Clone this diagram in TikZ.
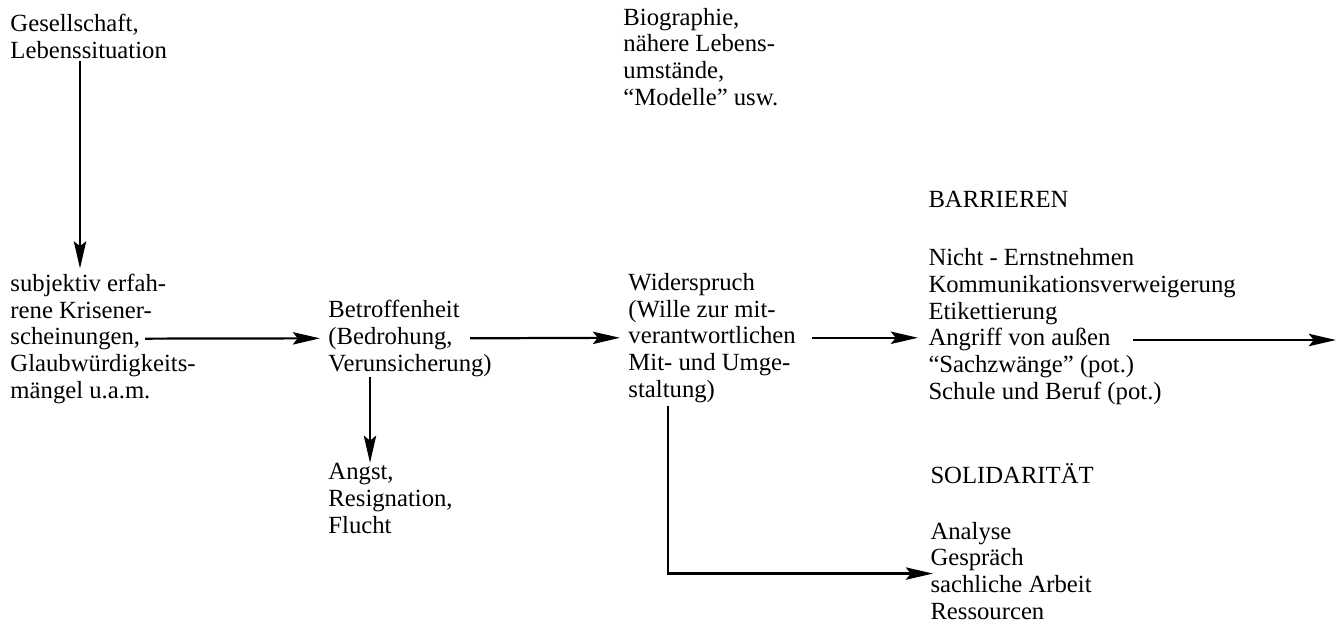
\documentclass[tikz,border=0pt]{standalone}
\usepackage{fontspec}
\setmainfont{Liberation Serif}
\usetikzlibrary{arrows.meta,calc}
\begin{document}
\begin{tikzpicture}[x=0.405pt,y=-0.405pt,
    >={Stealth[length=11pt,width=5pt,inset=2pt]},
    lbl/.style={anchor=base west,align=left,inner sep=0pt,font=\fontsize{10}{10.8}\selectfont},
    conn/.style={->,line width=0.9pt}]
  \useasboundingbox (0,0) rectangle (1336,624);
  % Grundlinie der letzten Zeile
  \node[lbl] (gesell) at (10,58) {Gesellschaft,\\Lebenssituation};
  \node[lbl] (bio) at (623,105) {Biographie,\\nähere Lebens-\\umstände,\\“Modelle” usw.};
  \node[lbl] (krise) at (10,398) {subjektiv erfah-\\rene Krisener-\\scheinungen,\\Glaubwürdigkeits-\\mängel u.a.m.};
  \node[lbl] (betr) at (328,371) {Betroffenheit\\(Bedrohung,\\Verunsicherung)};
  \node[lbl] (angst) at (328,533) {Angst,\\Resignation,\\Flucht};
  \node[lbl] (wid) at (628,397) {Widerspruch\\(Wille zur mit-\\verantwortlichen\\Mit- und Umge-\\staltung)};
  \node[lbl] (barrtitel) at (928,207) {BARRIEREN};
  \node[lbl] (barr) at (928,399) {Nicht - Ernstnehmen\\Kommunikationsverweigerung\\Etikettierung\\Angriff von außen\\“Sachzwänge” (pot.)\\Schule und Beruf (pot.)};
  \node[lbl] (solititel) at (930,483) {SOLIDARITÄT};
  \node[lbl] (soli) at (930,619) {Analyse\\Gespräch\\sachliche Arbeit\\Ressourcen};
  \coordinate (rand) at (1336,340);
  % Pfeile
  \draw[conn] ($(gesell.south west)+(70,2)$) -- ($(krise.north west)+(70,-5)$);
  \draw[conn] ($(krise.west)+(135,0)$) -- ($(betr.west)+(-8,0)$);
  \draw[conn] ($(betr.south west)+(42,0)$) -- ($(angst.north west)+(42,0)$);
  \draw[conn] ($(betr.west)+(142,0)$) -- ($(wid.west)+(-8,0)$);
  \draw[conn] ($(wid.west)+(184,0)$) -- ($(wid.west -| barr.west)+(-10,0)$);
  \draw[conn] ($(barr.west |- rand)+(205,0)$) -- (rand);
  \draw[conn] ($(wid.south west)+(40,3)$) |- ($(soli.west)+(3,3)$);
\end{tikzpicture}
\end{document}
